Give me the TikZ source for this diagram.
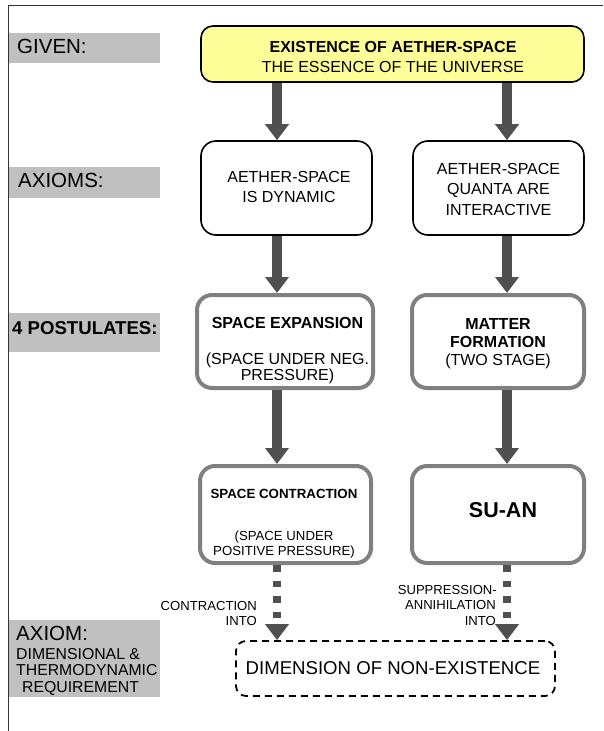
\documentclass[tikz,border=0pt]{standalone}
\usepackage{fontspec}
\setmainfont{Liberation Sans}
\usetikzlibrary{arrows.meta}
\definecolor{arrowgray}{HTML}{505050}
\definecolor{boxgray}{HTML}{808080}
\definecolor{labelgray}{HTML}{C0C0C0}
\definecolor{givenyellow}{HTML}{FFFF99}
\definecolor{framegray}{HTML}{333333}
\begin{document}
\begin{tikzpicture}[x=1pt,y=-1pt,
  graybox/.style={fill=labelgray,draw=none,inner sep=0pt,minimum width=152pt},
  labtxt/.style={font=\fontsize{20.5}{24}\selectfont,anchor=base west,inner sep=0pt},
  labbold/.style={font=\fontsize{18.6}{22}\selectfont\bfseries,anchor=base west,inner sep=0pt},
  labsmall/.style={font=\fontsize{15.8}{18}\selectfont,anchor=base west,inner sep=0pt},
  bxtxt/.style={font=\fontsize{16}{19}\selectfont,anchor=base,inner sep=0pt},
  bxbold/.style={font=\fontsize{16}{19}\selectfont\bfseries,anchor=base,inner sep=0pt},
  smtxt/.style={font=\fontsize{13.2}{16}\selectfont,anchor=base,inner sep=0pt},
  smbold/.style={font=\fontsize{13.3}{16}\selectfont\bfseries,anchor=base,inner sep=0pt},
  arrtxt/.style={font=\fontsize{13.1}{16}\selectfont,anchor=base east,inner sep=0pt},
  givenbox/.style={draw=black,line width=1.6pt,fill=givenyellow,rounded corners=12pt,inner sep=0pt},
  axbox/.style={draw=black,line width=1.6pt,fill=white,rounded corners=15pt,inner sep=0pt},
  postbox/.style={draw=boxgray,line width=4pt,fill=white,rounded corners=15pt,inner sep=0pt},
  dimbox/.style={draw=black,line width=1.8pt,dash pattern=on 7pt off 5pt,rounded corners=10pt,inner sep=0pt},
  solidarr/.style={draw=arrowgray,line width=9.6pt,-{Triangle[width=23pt,length=16pt]},arrowgray},
  dotarr/.style={draw=arrowgray,line width=8pt,dash pattern=on 6.5pt off 9pt,-{Triangle[width=23pt,length=16pt]},arrowgray},
]
\useasboundingbox (0,0) rectangle (603,731);

% left-hand gray labels
\node[graybox,minimum height=30pt] (gGiven) at (84,48) {};
\node[graybox,minimum height=31pt] (gAxioms) at (84,182.5) {};
\node[graybox,minimum height=39pt] (gPost) at (84,332.5) {};
\node[graybox,minimum height=77pt] (gAxiom) at (84,658.5) {};

% frame
\draw[framegray,line width=1pt] (8,731) -- (8,5) -- (603,5);

\node[labtxt] (tGiven) at (17,53) {GIVEN:};
\node[labtxt] (tAxioms) at (18,187) {AXIOMS:};
\node[labbold] (tPost) at (12,334) {4 POSTULATES:};
\node[labtxt] (tAxiom) at (16,640) {AXIOM:};
\node[labsmall] (tDim1) at (16,659) {DIMENSIONAL \&};
\node[labsmall] (tDim2) at (16,675.5) {THERMODYNAMIC};
\node[labsmall] (tDim3) at (22,692) {REQUIREMENT};

% boxes
\node[givenbox,minimum width=383pt,minimum height=56pt] (top) at (392.5,54) {};
\node[axbox,minimum width=171pt,minimum height=94pt] (ax1) at (286.5,188) {};
\node[axbox,minimum width=171pt,minimum height=94pt] (ax2) at (498.5,188) {};
\node[postbox,minimum width=176pt,minimum height=93pt] (po1) at (285,341.5) {};
\node[postbox,minimum width=172pt,minimum height=93pt] (po2) at (498,341.5) {};
\node[postbox,minimum width=171pt,minimum height=97pt] (co1) at (285.5,514.5) {};
\node[postbox,minimum width=172pt,minimum height=97pt] (co2) at (498,514.5) {};
\node[dimbox,minimum width=319pt,minimum height=55pt] (dim) at (395.5,668.5) {};

% box texts
\node[bxbold] (t1a) at (393,52) {EXISTENCE OF AETHER-SPACE};
\node[bxtxt] (t1b) at (393,72) {THE ESSENCE OF THE UNIVERSE};

\node[bxtxt] (t2a) at (289,182) {AETHER-SPACE};
\node[bxtxt] (t2b) at (289,202) {IS DYNAMIC};

\node[bxtxt] (t3a) at (498.5,174) {AETHER-SPACE};
\node[bxtxt] (t3b) at (498.5,194.5) {QUANTA ARE};
\node[bxtxt] (t3c) at (498.5,215) {INTERACTIVE};

\node[bxbold] (t4a) at (287.5,328) {SPACE EXPANSION};
\node[bxtxt] (t4b) at (287.5,364) {(SPACE UNDER NEG.};
\node[bxtxt] (t4c) at (287.5,380) {PRESSURE)};

\node[bxbold] (t5a) at (498,329) {MATTER};
\node[bxbold] (t5b) at (498,347) {FORMATION};
\node[bxtxt] (t5c) at (498,365) {(TWO STAGE)};

\node[smbold] (t6a) at (284,498) {SPACE CONTRACTION};
\node[smtxt] (t6b) at (284,540) {(SPACE UNDER};
\node[smtxt] (t6c) at (284,555) {POSITIVE PRESSURE)};

\node[font=\fontsize{21.5}{24}\selectfont\bfseries,anchor=base,inner sep=0pt] (t7) at (503,517) {SU-AN};

\node[font=\fontsize{18.6}{22}\selectfont,anchor=base,inner sep=0pt] (t8) at (393,674) {DIMENSION OF NON-EXISTENCE};

% arrow labels
\node[arrtxt] (c1) at (257,610) {CONTRACTION};
\node[arrtxt] (c2) at (257,625) {INTO};
\node[arrtxt] (s1) at (497,594) {SUPPRESSION-};
\node[arrtxt] (s2) at (496,609.5) {ANNIHILATION};
\node[arrtxt] (s3) at (496,625) {INTO};

% connectors
\coordinate (cL) at (277,0);
\coordinate (cR) at (507,0);
\draw[solidarr] (top.south -| cL) -- (ax1.north -| cL);
\draw[solidarr] (top.south -| cR) -- (ax2.north -| cR);
\draw[solidarr] (ax1.south -| cL) -- (po1.north -| cL);
\draw[solidarr] (ax2.south -| cR) -- (po2.north -| cR);
\draw[solidarr] (po1.south -| cL) -- (co1.north -| cL);
\draw[solidarr] (po2.south -| cR) -- (co2.north -| cR);
\draw[dotarr] (co1.south -| cL) -- (dim.north -| cL);
\draw[dotarr] (co2.south -| cR) -- (dim.north -| cR);
\end{tikzpicture}
\end{document}
